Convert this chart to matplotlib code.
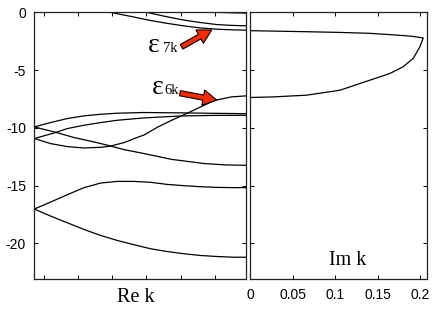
import matplotlib
matplotlib.use("Agg")
import matplotlib.pyplot as plt

# ---- data ----
# Left panel: Re k axis expressed as fraction of the path (0..1)
c1_x = [0.0, 0.077, 0.156, 0.235, 0.314, 0.392, 0.518, 0.688, 0.85, 1.0]
c1_y = [-9.92, -9.54, -9.19, -8.96, -8.82, -8.73, -8.67, -8.70, -8.74, -8.77]

c2_x = [0.0, 0.094, 0.156, 0.235, 0.314, 0.392, 0.518, 0.688, 0.85, 1.0]
c2_y = [-10.92, -10.44, -10.06, -9.77, -9.54, -9.34, -9.14, -8.97, -8.92, -8.91]

c3_x = [0.0, 0.077, 0.156, 0.235, 0.314, 0.361, 0.424, 0.490, 0.518, 0.584,
        0.650, 0.710, 0.790, 0.852, 0.931, 1.0]
c3_y = [-10.92, -11.36, -11.62, -11.74, -11.68, -11.57, -11.27, -10.80, -10.62,
        -9.92, -9.33, -8.84, -8.15, -7.62, -7.32, -7.23]

c4_x = [0.0, 0.094, 0.189, 0.283, 0.346, 0.424, 0.518, 0.647, 0.805, 0.90, 1.0]
c4_y = [-9.92, -10.35, -10.84, -11.22, -11.50, -11.88, -12.22, -12.72, -13.09,
        -13.20, -13.24]

c5_x = [0.0, 0.077, 0.156, 0.235, 0.314, 0.392, 0.471, 0.550, 0.628, 0.707,
        0.786, 0.864, 0.943, 1.0]
c5_y = [-17.02, -16.42, -15.78, -15.17, -14.77, -14.63, -14.63, -14.71, -14.89,
        -15.00, -15.09, -15.15, -15.17, -15.17]

c6_x = [0.0, 0.077, 0.156, 0.235, 0.314, 0.392, 0.471, 0.550, 0.628, 0.707,
        0.786, 0.864, 0.943, 1.0]
c6_y = [-17.02, -17.63, -18.21, -18.79, -19.31, -19.74, -20.11, -20.46, -20.70,
        -20.89, -21.04, -21.13, -21.19, -21.19]

cA_x = [0.358, 0.468, 0.547, 0.625, 0.705, 0.783, 0.862, 0.924, 1.0]
cA_y = [0.0, -0.40, -0.70, -0.95, -1.17, -1.35, -1.46, -1.51, -1.55]

cB_x = [0.531, 0.620, 0.702, 0.782, 0.862, 0.930, 1.0]
cB_y = [0.0, -0.36, -0.66, -0.88, -1.06, -1.13, -1.17]

cC_x = [0.854, 0.93, 1.0]
cC_y = [0.0, -0.04, -0.07]

left_curves = [(c1_x, c1_y), (c2_x, c2_y), (c3_x, c3_y), (c4_x, c4_y),
               (c5_x, c5_y), (c6_x, c6_y), (cA_x, cA_y), (cB_x, cB_y), (cC_x, cC_y)]

# Right panel: Im k branch joining eps_7k and eps_6k
up_imk = [0.0, 0.0668, 0.105, 0.141, 0.1724, 0.190, 0.2038]
up_e = [-1.59, -1.68, -1.74, -1.82, -1.97, -2.07, -2.22]
lo_imk = [0.2038, 0.1999, 0.192, 0.180, 0.1646, 0.141, 0.1057, 0.0664, 0.0271, 0.0]
lo_e = [-2.22, -2.98, -3.99, -4.72, -5.29, -5.87, -6.74, -7.17, -7.32, -7.37]

yticks = [0, -5, -10, -15, -20]
yticklabels = ["0", "-5", "-10", "-15", "-20"]
imk_ticks = [0, 0.05, 0.1, 0.15, 0.2]
imk_labels = ["0", "0.05", "0.1", "0.15", "0.2"]
rek_ticks = [0.044, 0.206, 0.367, 0.528, 0.692, 0.854]

W, H = 436, 309
fig = plt.figure(figsize=(W / 100, H / 100), dpi=100)
fig.patch.set_facecolor("white")

ax1 = fig.add_axes([34.3 / W, 1 - 279.3 / H, 211.7 / W, 267 / H])
ax2 = fig.add_axes([250.3 / W, 1 - 279.3 / H, 176.4 / W, 267 / H])

sans = "Liberation Sans"
serif = "Liberation Serif"

for ax in (ax1, ax2):
    ax.set_ylim(-23.1, 0)
    ax.set_yticks(yticks)
    ax.tick_params(direction="in", length=3, width=0.7, top=True, right=True,
                   labelsize=10, pad=6, colors="black")
    for sp in ax.spines.values():
        sp.set_linewidth(0.9)
        sp.set_color("#222222")

ax1.set_xlim(0, 1)
ax1.set_xticks(rek_ticks)
ax1.set_xticklabels([])
ax1.set_yticklabels(yticklabels, family=sans, fontsize=10)

ax2.set_xlim(0, 0.2079)
ax2.set_xticks(imk_ticks)
ax2.set_xticklabels(imk_labels, family=sans, fontsize=10)
ax2.set_yticklabels([])

for xs, ys in left_curves:
    ax1.plot(xs, ys, color="black", lw=0.9, solid_joinstyle="round",
             solid_capstyle="round")

ax2.plot(up_imk + lo_imk[1:], up_e + lo_e[1:], color="black", lw=0.9,
         solid_joinstyle="round")

# axis labels
fig.text(136 / W, 1 - 302 / H, "Re k", family=serif, fontsize=14.5,
         ha="center", va="baseline")
fig.text(348 / W, 1 - 265 / H, "Im k", family=serif, fontsize=14.5,
         ha="center", va="baseline")

# epsilon annotations
fig.text(148.3 / W, 1 - 51.5 / H, "ε", family=serif, fontsize=20,
         ha="left", va="baseline")
fig.text(162.7 / W, 1 - 51.8 / H, "7k", family=serif, fontsize=10.5,
         ha="left", va="baseline")
fig.text(151.7 / W, 1 - 93.5 / H, "ε", family=serif, fontsize=20,
         ha="left", va="baseline")
fig.text(164.0 / W, 1 - 94.5 / H, "6k", family=serif, fontsize=10.5,
         ha="left", va="baseline")

arrow_kw = dict(arrowstyle="simple,head_length=0.9,head_width=1.0,tail_width=0.34",
                fc="#ff2a00", ec="black", lw=0.8, shrinkA=0, shrinkB=0,
                mutation_scale=11)
ax1.annotate("", xy=(0.838, 0.934), xytext=(0.696, 0.871),
             xycoords="axes fraction", textcoords="axes fraction",
             arrowprops=arrow_kw)
ax1.annotate("", xy=(0.862, 0.671), xytext=(0.688, 0.697),
             xycoords="axes fraction", textcoords="axes fraction",
             arrowprops=arrow_kw)

fig.savefig("out.png", dpi=100, facecolor="white")
